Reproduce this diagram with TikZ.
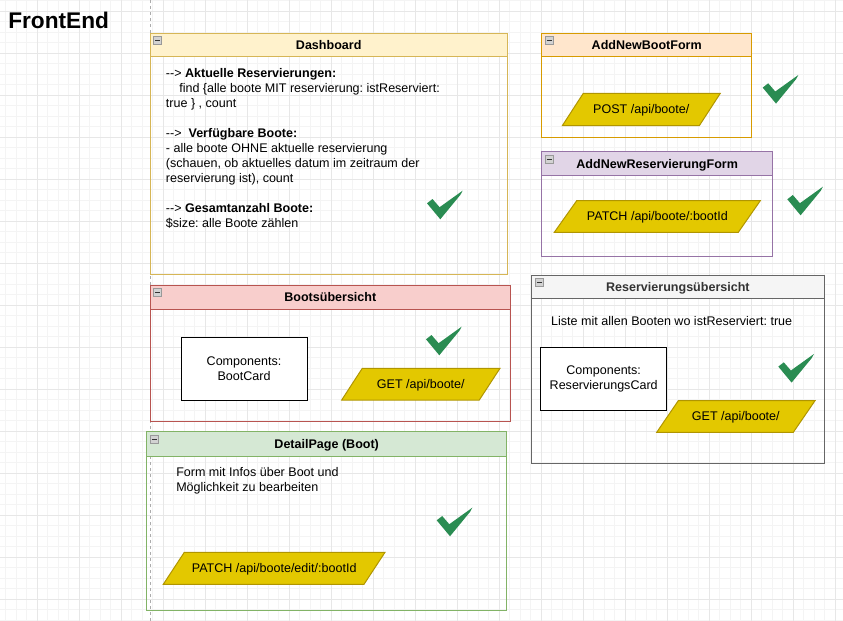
\documentclass[tikz,border=0pt]{standalone}
\usepackage{fontspec}
\setmainfont{Liberation Sans}
\frenchspacing

\definecolor{dashFill}{HTML}{FFF2CC}\definecolor{dashLine}{HTML}{D6B656}
\definecolor{formFill}{HTML}{FFE6CC}\definecolor{formLine}{HTML}{D79B00}
\definecolor{resvFill}{HTML}{E1D5E7}\definecolor{resvLine}{HTML}{9673A6}
\definecolor{bootFill}{HTML}{F8CECC}\definecolor{bootLine}{HTML}{B85450}
\definecolor{listFill}{HTML}{F5F5F5}\definecolor{listLine}{HTML}{666666}
\definecolor{detlFill}{HTML}{D5E8D4}\definecolor{detlLine}{HTML}{82B366}
\definecolor{apiFill}{HTML}{E3C800}\definecolor{apiLine}{HTML}{B09500}
\definecolor{okGreen}{HTML}{2A8C52}

% "-->" without the en-dash ligature
\newcommand{\pfeil}{-\kern0pt-\kern0pt>}

\begin{document}
\begin{tikzpicture}[
  x=0.75pt, y=-0.75pt,
  font=\fontsize{9.4}{11.25}\selectfont,
  minorgrid/.style={draw=gray!9, line width=0.75pt},
  majorgrid/.style={draw=gray!19, line width=0.75pt},
  boxtitle/.style={font=\fontsize{9.4}{11.25}\selectfont\bfseries,
    inner sep=0pt, text height=6.7pt, text depth=0pt},
  bodytext/.style={inner sep=0pt, align=left, anchor=north west},
  comp/.style={draw=black, fill=white, line width=0.75pt},
  api/.style={fill=apiFill, draw=apiLine, line width=0.75pt},
  apitext/.style={inner sep=0pt, text height=6.7pt, text depth=0pt},
  fold/.style={fill=gray!35, draw=gray!80, line width=0.6pt}
]
\useasboundingbox (0,0) rectangle (843,621);

% ── Background grid ─────────────────────────────────────────────
\foreach \gx in {5.8,16.3,...,843} \draw[minorgrid] (\gx,0)--(\gx,621);
\foreach \gy in {0.8,11.3,...,621} \draw[minorgrid] (0,\gy)--(843,\gy);
\foreach \gx in {37.3,79.3,...,843} \draw[majorgrid] (\gx,0)--(\gx,621);
\foreach \gy in {11.3,53.3,...,621} \draw[majorgrid] (0,\gy)--(843,\gy);

% page break line
\draw[gray!65, line width=0.75pt, dash pattern=on 2.5pt off 2pt] (150,0)--(150,621);

\node[font=\fontsize{17}{20}\selectfont\bfseries, anchor=west, inner sep=0pt]
  (frontend) at (8,20.3) {FrontEnd};

% ── Dashboard ──────────────────────────────────────────────────
\fill[dashFill] (150,33.3) rectangle (507.3,56.7);
\draw[dashLine, line width=0.75pt]
  (150,33.3) rectangle (507.3,274)  (150,56.7)--(507.3,56.7);
\node[boxtitle] (dashT) at (328.7,45) {Dashboard};
\node[bodytext] (dashB) at (165.7,68.6) {%
  \pfeil{} \textbf{Aktuelle Reservierungen:}\\
  \hspace*{10pt}find \{alle boote MIT reservierung: istReserviert:\\
  true \} , count\\[11.25pt]
  \pfeil{}\ \ \textbf{Verfügbare Boote:}\\
  - alle boote OHNE aktuelle reservierung\\
  (schauen, ob aktuelles datum im zeitraum der\\
  reservierung ist), count\\[11.25pt]
  \pfeil{} \textbf{Gesamtanzahl Boote:}\\
  \$size: alle Boote zählen};

% ── AddNewBootForm ─────────────────────────────────────────────
\fill[formFill] (541.7,33.3) rectangle (751.7,56.7);
\draw[formLine, line width=0.75pt]
  (541.7,33.3) rectangle (751.7,137.7)  (541.7,56.7)--(751.7,56.7);
\node[boxtitle] (bootFormT) at (646.7,45) {AddNewBootForm};
\filldraw[api] (583.3,93.3)--(720.3,93.3)--(699.3,125.7)--(562.3,125.7)--cycle;
\node[apitext] (postBoot) at (641.3,109.5) {POST /api/boote/};

% ── AddNewReservierungForm ─────────────────────────────────────
\fill[resvFill] (541.7,151.7) rectangle (772.7,175.7);
\draw[resvLine, line width=0.75pt]
  (541.7,151.7) rectangle (772.7,256.7)  (541.7,175.7)--(772.7,175.7);
\node[boxtitle] (resvFormT) at (657.2,163.7) {AddNewReservierungForm};
\filldraw[api] (576.7,200.7)--(760.3,200.7)--(738.3,232.3)--(554.3,232.3)--cycle;
\node[apitext] (patchResv) at (657.4,216.5) {PATCH /api/boote/:bootId};

% ── Bootsübersicht ─────────────────────────────────────────────
\fill[bootFill] (150,285) rectangle (510.7,309.3);
\draw[bootLine, line width=0.75pt]
  (150,285) rectangle (510.7,421)  (150,309.3)--(510.7,309.3);
\node[boxtitle] (bootT) at (330.3,297.2) {Bootsübersicht};
\filldraw[comp] (181,337.3) rectangle (307.7,400);
\node[align=center, inner sep=0pt] (bootCard) at (244,368.7)
  {Components:\\BootCard};
\filldraw[api] (362.3,368.3)--(500,368.3)--(479.3,400)--(341.7,400)--cycle;
\node[apitext] (getBoot) at (420.8,384.2) {GET /api/boote/};

% ── Reservierungsübersicht ─────────────────────────────────────
\fill[listFill] (531.7,275) rectangle (824,298.3);
\draw[listLine, line width=0.75pt]
  (531.7,275) rectangle (824,463.3)  (531.7,298.3)--(824,298.3);
\node[boxtitle, text=black!80] (listT) at (677.9,286.7) {Reservierungsübersicht};
\node[apitext] (listB) at (671.7,321) {Liste mit allen Booten wo istReserviert: true};
\filldraw[comp] (540.7,347.7) rectangle (666.7,410.7);
\node[align=center, inner sep=0pt] (resvCard) at (603.7,379.3)
  {Components:\\ReservierungsCard};
\filldraw[api] (678.3,400.7)--(815,400.7)--(793.3,432.3)--(656.7,432.3)--cycle;
\node[apitext] (getList) at (735.8,416.5) {GET /api/boote/};

% ── DetailPage (Boot) ──────────────────────────────────────────
\fill[detlFill] (146.7,431.7) rectangle (506.7,456.7);
\draw[detlLine, line width=0.75pt]
  (146.7,431.7) rectangle (506.7,610)  (146.7,456.7)--(506.7,456.7);
\node[boxtitle] (detlT) at (326.7,444.2) {DetailPage (Boot)};
\node[bodytext] (detlB) at (176,467.1)
  {Form mit Infos über Boot und\\Möglichkeit zu bearbeiten};
\filldraw[api] (184.3,552.3)--(385,552.3)--(364,584.3)--(163.3,584.3)--cycle;
\node[apitext] (patchDetl) at (274.2,568.3) {PATCH /api/boote/edit/:bootId};

% ── Fold icons in the headers ──────────────────────────────────
\foreach \fx/\fy in {150/33.3, 541.7/33.3, 541.7/151.7, 150/285, 531.7/275, 146.7/431.7}{
  \filldraw[fold, shift={(\fx,\fy)}] (3.5,3.5) rectangle (11.5,11.5);
  \draw[black!80, line width=0.7pt, shift={(\fx,\fy)}] (5.2,7.5)--(9.8,7.5);
}

% ── Done marks ─────────────────────────────────────────────────
\foreach \cx/\cy in {427/190.7, 762.7/75, 787.3/186.7, 426/326.7, 778.3/354, 436.7/507.7}
  \fill[okGreen, shift={(\cx,\cy)}]
    (0,12.6)--(5.5,8.3)--(12.6,16.5)--(35.6,0)--(33.5,4)--(13.3,28.6)--cycle;

\end{tikzpicture}
\end{document}
